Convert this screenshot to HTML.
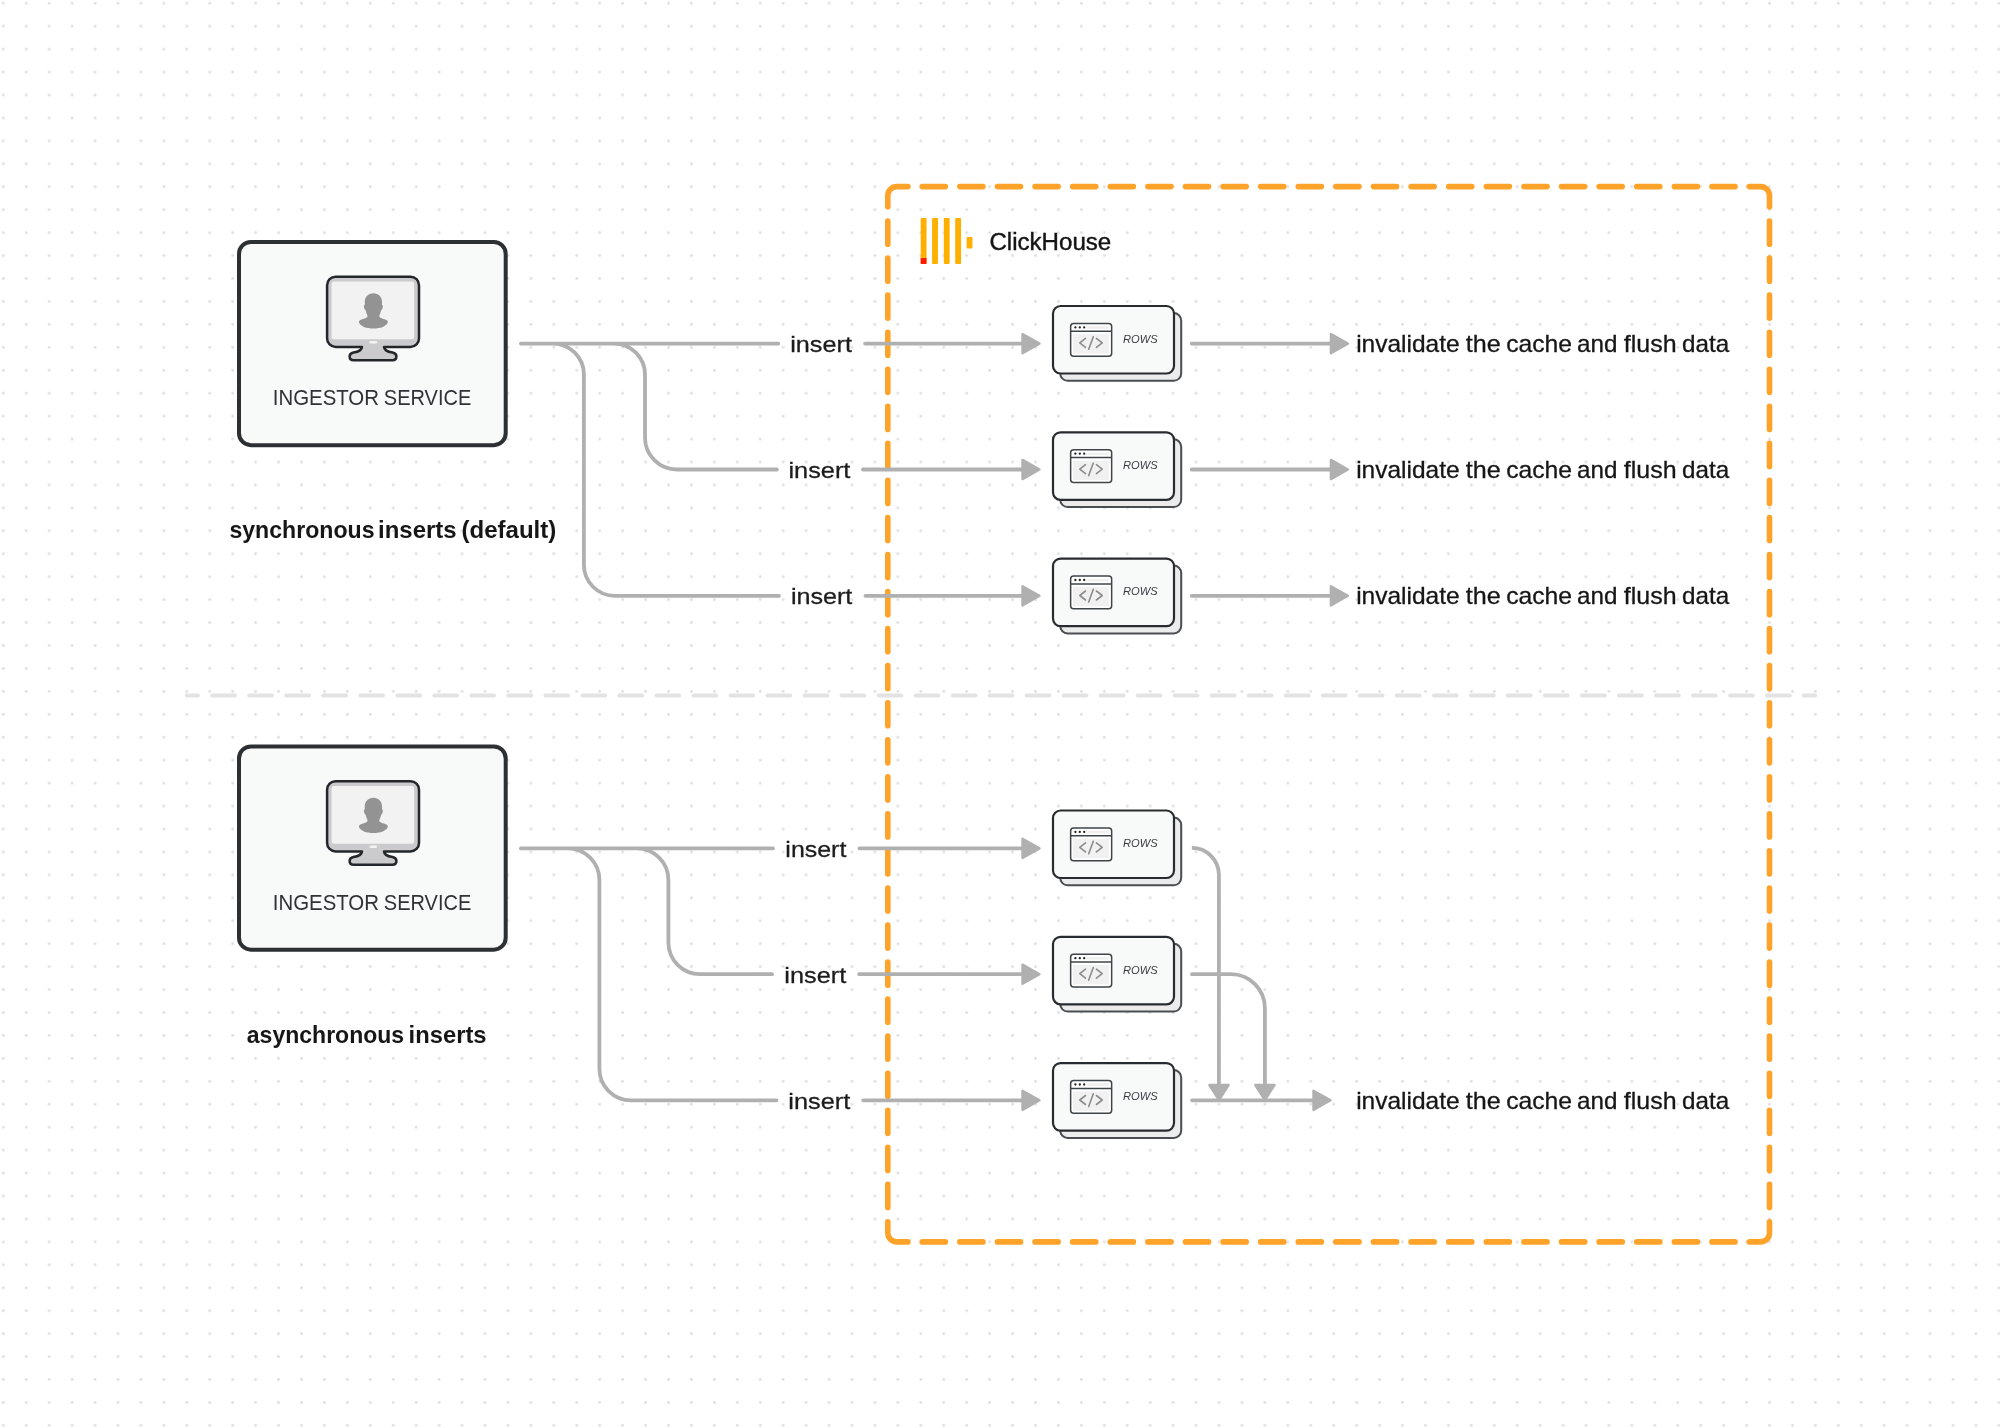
<!DOCTYPE html>
<html><head><meta charset="utf-8"><title>ClickHouse async inserts</title>
<style>html,body{margin:0;padding:0;background:#fff;}body{width:2000px;height:1428px;overflow:hidden;font-family:"Liberation Sans",sans-serif;}svg{display:block;will-change:transform}</style>
</head><body>
<svg width="2000" height="1428" viewBox="0 0 2000 1428">
<defs><pattern id="dots" patternUnits="userSpaceOnUse" x="-8.18" y="-8.18" width="22.938" height="22.938"><circle cx="11.47" cy="11.47" r="1.45" fill="#e0e0e0"/></pattern></defs>
<rect width="2000" height="1428" fill="#ffffff"/>
<rect width="2000" height="1428" fill="url(#dots)"/>
<path d="M186.8 695.6H198M212.2 695.6H235M249.22 695.6H272.02M286.24 695.6H309.04M323.26 695.6H346.06M360.28 695.6H383.08M397.3 695.6H420.1M434.32 695.6H457.12M471.34 695.6H494.14M508.36 695.6H531.16M545.38 695.6H568.18M582.4 695.6H605.2M619.42 695.6H642.22M656.44 695.6H679.24M693.46 695.6H716.26M730.48 695.6H753.28M767.5 695.6H790.3M804.52 695.6H827.32M841.54 695.6H864.34M878.56 695.6H901.36M915.58 695.6H938.38M952.6 695.6H975.4M989.62 695.6H1012.42M1026.64 695.6H1049.44M1063.66 695.6H1086.46M1100.68 695.6H1123.48M1137.7 695.6H1160.5M1174.72 695.6H1197.52M1211.74 695.6H1234.54M1248.76 695.6H1271.56M1285.78 695.6H1308.58M1322.8 695.6H1345.6M1359.82 695.6H1382.62M1396.84 695.6H1419.64M1433.86 695.6H1456.66M1470.88 695.6H1493.68M1507.9 695.6H1530.7M1544.92 695.6H1567.72M1581.94 695.6H1604.74M1618.96 695.6H1641.76M1655.98 695.6H1678.78M1693 695.6H1715.8M1730.02 695.6H1752.82M1767.04 695.6H1789.84M1803.8 695.6H1815.2" stroke="#e3e3e3" stroke-width="4" stroke-linecap="round" fill="none"/>
<path d="M887.8 206.7V195.6A9 9 0 0 1 896.8 186.6H907.9M1749.4 186.6H1760.5A9 9 0 0 1 1769.5 195.6V206.7M1769.5 1221.8V1232.9A9 9 0 0 1 1760.5 1241.9H1749.4M907.9 1241.9H896.8A9 9 0 0 1 887.8 1232.9V1221.8M922.25 186.6H945.35M922.25 1241.9H945.35M959.85 186.6H982.95M959.85 1241.9H982.95M997.46 186.6H1020.56M997.46 1241.9H1020.56M1035.06 186.6H1058.16M1035.06 1241.9H1058.16M1072.67 186.6H1095.77M1072.67 1241.9H1095.77M1110.27 186.6H1133.37M1110.27 1241.9H1133.37M1147.88 186.6H1170.98M1147.88 1241.9H1170.98M1185.48 186.6H1208.58M1185.48 1241.9H1208.58M1223.09 186.6H1246.19M1223.09 1241.9H1246.19M1260.69 186.6H1283.79M1260.69 1241.9H1283.79M1298.3 186.6H1321.4M1298.3 1241.9H1321.4M1335.9 186.6H1359M1335.9 1241.9H1359M1373.51 186.6H1396.61M1373.51 1241.9H1396.61M1411.11 186.6H1434.21M1411.11 1241.9H1434.21M1448.72 186.6H1471.82M1448.72 1241.9H1471.82M1486.32 186.6H1509.42M1486.32 1241.9H1509.42M1523.93 186.6H1547.03M1523.93 1241.9H1547.03M1561.53 186.6H1584.63M1561.53 1241.9H1584.63M1599.14 186.6H1622.24M1599.14 1241.9H1622.24M1636.74 186.6H1659.84M1636.74 1241.9H1659.84M1674.35 186.6H1697.45M1674.35 1241.9H1697.45M1711.95 186.6H1735.05M1711.95 1241.9H1735.05M887.8 221.05V244.15M1769.5 221.05V244.15M887.8 258.1V281.2M1769.5 258.1V281.2M887.8 295.15V318.25M1769.5 295.15V318.25M887.8 332.2V355.3M1769.5 332.2V355.3M887.8 369.25V392.35M1769.5 369.25V392.35M887.8 406.3V429.4M1769.5 406.3V429.4M887.8 443.35V466.45M1769.5 443.35V466.45M887.8 480.4V503.5M1769.5 480.4V503.5M887.8 517.45V540.55M1769.5 517.45V540.55M887.8 554.5V577.6M1769.5 554.5V577.6M887.8 591.55V614.65M1769.5 591.55V614.65M887.8 628.6V651.7M1769.5 628.6V651.7M887.8 665.65V688.75M1769.5 665.65V688.75M887.8 702.7V725.8M1769.5 702.7V725.8M887.8 739.75V762.85M1769.5 739.75V762.85M887.8 776.8V799.9M1769.5 776.8V799.9M887.8 813.85V836.95M1769.5 813.85V836.95M887.8 850.9V874M1769.5 850.9V874M887.8 887.95V911.05M1769.5 887.95V911.05M887.8 925V948.1M1769.5 925V948.1M887.8 962.05V985.15M1769.5 962.05V985.15M887.8 999.1V1022.2M1769.5 999.1V1022.2M887.8 1036.15V1059.25M1769.5 1036.15V1059.25M887.8 1073.2V1096.3M1769.5 1073.2V1096.3M887.8 1110.25V1133.35M1769.5 1110.25V1133.35M887.8 1147.3V1170.4M1769.5 1147.3V1170.4M887.8 1184.35V1207.45M1769.5 1184.35V1207.45" stroke="#fea329" stroke-width="5.6" stroke-linecap="round" fill="none"/>
<rect x="920.7" y="218.1" width="5.85" height="45.8" rx="0.8" fill="#fdb000"/><rect x="932.1" y="218.1" width="5.85" height="45.8" rx="0.8" fill="#fdb000"/><rect x="943.8" y="218.1" width="5.85" height="45.8" rx="0.8" fill="#fdb000"/><rect x="955.2" y="218.1" width="5.85" height="45.8" rx="0.8" fill="#fdb000"/><rect x="966.6" y="237" width="5.85" height="11.4" rx="0.8" fill="#fdb000"/><rect x="920.7" y="258" width="5.85" height="5.9" rx="0.6" fill="#ff1a00"/>
<g transform="translate(0 0)">
<rect x="239" y="241.9" width="266.7" height="203.3" rx="12" fill="#f8f9f9" stroke="#2c3033" stroke-width="4"/>
<g transform="translate(0 0)"><path d="M335.6 276.7H410.5A8.5 8.5 0 0 1 419.0 285.2V338.4A8.5 8.5 0 0 1 410.5 346.9H384C384.2 350.5 387.5 351.8 392.5 352.6C395.5 353.2 396.4 355 396.4 356.5C396.4 358.8 394.7 360.2 392.4 360.2H353.6C351.3 360.2 349.6 358.8 349.6 356.5C349.6 355 350.5 353.2 353.5 352.6C358.5 351.8 361.8 350.5 362 346.9H335.6A8.5 8.5 0 0 1 327.1 338.4V285.2A8.5 8.5 0 0 1 335.6 276.7Z" fill="#cbcbcd" stroke="#23272a" stroke-width="2.5" stroke-linejoin="round"/><rect x="331.6" y="281.4" width="82.5" height="57.8" rx="2.5" fill="#f2f2f2"/><rect x="369.5" y="340.9" width="7.6" height="2.6" rx="1.3" fill="#f4f4f4"/><path d="M373.4 293.2C368.2 293.2 364.8 296.8 364.8 302L364.8 304.8C363.9 305.1 363.7 306.5 364.1 307.8C364.4 309 365 309.8 365.5 309.9C366 312 366.8 313.8 367.4 315.2L367.4 317C365.5 318.3 362.5 319.2 360.5 319.9C359.2 320.4 358.7 321.2 359 322.4C360.6 326.3 366 328.4 373.4 328.4C380.8 328.4 386.2 326.3 387.8 322.4C388.1 321.2 387.6 320.4 386.3 319.9C384.3 319.2 381.3 318.3 379.4 317L379.4 315.2C380 313.8 380.8 312 381.3 309.9C381.8 309.8 382.4 309 382.7 307.8C383.1 306.5 382.9 305.1 382 304.8L382 302C382 296.8 378.6 293.2 373.4 293.2Z" fill="#939393" /></g>
</g>
<g transform="translate(0 504.5)">
<rect x="239" y="241.9" width="266.7" height="203.3" rx="12" fill="#f8f9f9" stroke="#2c3033" stroke-width="4"/>
<g transform="translate(0 0)"><path d="M335.6 276.7H410.5A8.5 8.5 0 0 1 419.0 285.2V338.4A8.5 8.5 0 0 1 410.5 346.9H384C384.2 350.5 387.5 351.8 392.5 352.6C395.5 353.2 396.4 355 396.4 356.5C396.4 358.8 394.7 360.2 392.4 360.2H353.6C351.3 360.2 349.6 358.8 349.6 356.5C349.6 355 350.5 353.2 353.5 352.6C358.5 351.8 361.8 350.5 362 346.9H335.6A8.5 8.5 0 0 1 327.1 338.4V285.2A8.5 8.5 0 0 1 335.6 276.7Z" fill="#cbcbcd" stroke="#23272a" stroke-width="2.5" stroke-linejoin="round"/><rect x="331.6" y="281.4" width="82.5" height="57.8" rx="2.5" fill="#f2f2f2"/><rect x="369.5" y="340.9" width="7.6" height="2.6" rx="1.3" fill="#f4f4f4"/><path d="M373.4 293.2C368.2 293.2 364.8 296.8 364.8 302L364.8 304.8C363.9 305.1 363.7 306.5 364.1 307.8C364.4 309 365 309.8 365.5 309.9C366 312 366.8 313.8 367.4 315.2L367.4 317C365.5 318.3 362.5 319.2 360.5 319.9C359.2 320.4 358.7 321.2 359 322.4C360.6 326.3 366 328.4 373.4 328.4C380.8 328.4 386.2 326.3 387.8 322.4C388.1 321.2 387.6 320.4 386.3 319.9C384.3 319.2 381.3 318.3 379.4 317L379.4 315.2C380 313.8 380.8 312 381.3 309.9C381.8 309.8 382.4 309 382.7 307.8C383.1 306.5 382.9 305.1 382 304.8L382 302C382 296.8 378.6 293.2 373.4 293.2Z" fill="#939393" /></g>
</g>
<path d="M520.9 343.6H778.3M552.9 343.6A31 31 0 0 1 583.9 374.6V564.8A31 31 0 0 0 614.9 595.8H779M614 343.6A31 31 0 0 1 645 374.6V437.5A32 32 0 0 0 677 469.5H776.9M520.9 848.4H773M567.8 848.4A31.6 31.6 0 0 1 599.4 880V1068.7A31.6 31.6 0 0 0 631 1100.3H776.5M636.8 848.4A31.6 31.6 0 0 1 668.4 880V942.6A31.6 31.6 0 0 0 700 974.2H772.1M865.1 343.6H1024M862.9 469.5H1024M865.4 595.8H1024M859.5 848.4H1024M859.1 974.2H1024M863.2 1100.3H1024M1191.7 343.6H1331M1191.7 469.5H1331M1191.7 595.8H1331M1192 1100.3H1315" stroke="#b0b0b0" stroke-width="3.8" stroke-linecap="round" stroke-linejoin="round" fill="none"/>
<path d="M1191.9 847.9A27 27 0 0 1 1218.9 874.9V1086" stroke="#b0b0b0" stroke-width="3.8" fill="none"/>
<path d="M1192 974.2H1230.9A34 34 0 0 1 1264.9 1008.2V1086" stroke="#b0b0b0" stroke-width="3.8" stroke-linecap="round" fill="none"/>
<path d="M1022.5 334L1039.5 343.6L1022.5 353.2Z" fill="#b0b0b0" stroke="#b0b0b0" stroke-width="2.4" stroke-linejoin="round"/><path d="M1022.5 459.9L1039.5 469.5L1022.5 479.1Z" fill="#b0b0b0" stroke="#b0b0b0" stroke-width="2.4" stroke-linejoin="round"/><path d="M1022.5 586.2L1039.5 595.8L1022.5 605.4Z" fill="#b0b0b0" stroke="#b0b0b0" stroke-width="2.4" stroke-linejoin="round"/><path d="M1022.5 838.8L1039.5 848.4L1022.5 858Z" fill="#b0b0b0" stroke="#b0b0b0" stroke-width="2.4" stroke-linejoin="round"/><path d="M1022.5 964.6L1039.5 974.2L1022.5 983.8Z" fill="#b0b0b0" stroke="#b0b0b0" stroke-width="2.4" stroke-linejoin="round"/><path d="M1022.5 1090.7L1039.5 1100.3L1022.5 1109.9Z" fill="#b0b0b0" stroke="#b0b0b0" stroke-width="2.4" stroke-linejoin="round"/><path d="M1330.9 334L1347.9 343.6L1330.9 353.2Z" fill="#b0b0b0" stroke="#b0b0b0" stroke-width="2.4" stroke-linejoin="round"/><path d="M1330.9 459.9L1347.9 469.5L1330.9 479.1Z" fill="#b0b0b0" stroke="#b0b0b0" stroke-width="2.4" stroke-linejoin="round"/><path d="M1330.9 586.2L1347.9 595.8L1330.9 605.4Z" fill="#b0b0b0" stroke="#b0b0b0" stroke-width="2.4" stroke-linejoin="round"/><path d="M1313.5 1090.7L1330.5 1100.3L1313.5 1109.9Z" fill="#b0b0b0" stroke="#b0b0b0" stroke-width="2.4" stroke-linejoin="round"/><path d="M1209.4 1085L1219 1100L1228.6 1085Z" fill="#b0b0b0" stroke="#b0b0b0" stroke-width="2.4" stroke-linejoin="round"/><path d="M1255.3 1085L1264.9 1100L1274.5 1085Z" fill="#b0b0b0" stroke="#b0b0b0" stroke-width="2.4" stroke-linejoin="round"/>
<g transform="translate(0 0)"><rect x="1060.2" y="313" width="121" height="67.8" rx="7.5" fill="#ececec" stroke="#4a4e51" stroke-width="2"/><rect x="1053" y="306" width="121" height="67.5" rx="7.5" fill="#f8f9f9" stroke="#292c2f" stroke-width="2.2"/><rect x="1070.65" y="323.45" width="41" height="32.7" rx="3" fill="#ffffff" stroke="#3f4447" stroke-width="1.5"/><rect x="1072.9" y="334.2" width="36.2" height="19.5" fill="#f1f1f1"/><rect x="1086.9" y="326.1" width="22" height="2.8" fill="#f0f0f0"/><path d="M1070.65 331.3H1111.65" stroke="#3f4447" stroke-width="1.5"/><circle cx="1075.4" cy="327.4" r="1.15" fill="#222"/><circle cx="1079.8" cy="327.4" r="1.15" fill="#222"/><circle cx="1084.2" cy="327.4" r="1.15" fill="#222"/><path d="M1085.5 338.4L1079.8 342.9L1085.5 347.4M1093.3 336.7L1088.7 349.3M1096.4 338.4L1102.2 342.9L1096.4 347.4" stroke="#8c8c8c" stroke-width="1.6" stroke-linecap="round" stroke-linejoin="round" fill="none"/><text x="1123" y="342.9" font-family="Liberation Sans" font-style="italic" font-size="11.4" fill="#3a3d40" textLength="34.6" lengthAdjust="spacingAndGlyphs">ROWS</text></g>
<g transform="translate(0 126.3)"><rect x="1060.2" y="313" width="121" height="67.8" rx="7.5" fill="#ececec" stroke="#4a4e51" stroke-width="2"/><rect x="1053" y="306" width="121" height="67.5" rx="7.5" fill="#f8f9f9" stroke="#292c2f" stroke-width="2.2"/><rect x="1070.65" y="323.45" width="41" height="32.7" rx="3" fill="#ffffff" stroke="#3f4447" stroke-width="1.5"/><rect x="1072.9" y="334.2" width="36.2" height="19.5" fill="#f1f1f1"/><rect x="1086.9" y="326.1" width="22" height="2.8" fill="#f0f0f0"/><path d="M1070.65 331.3H1111.65" stroke="#3f4447" stroke-width="1.5"/><circle cx="1075.4" cy="327.4" r="1.15" fill="#222"/><circle cx="1079.8" cy="327.4" r="1.15" fill="#222"/><circle cx="1084.2" cy="327.4" r="1.15" fill="#222"/><path d="M1085.5 338.4L1079.8 342.9L1085.5 347.4M1093.3 336.7L1088.7 349.3M1096.4 338.4L1102.2 342.9L1096.4 347.4" stroke="#8c8c8c" stroke-width="1.6" stroke-linecap="round" stroke-linejoin="round" fill="none"/><text x="1123" y="342.9" font-family="Liberation Sans" font-style="italic" font-size="11.4" fill="#3a3d40" textLength="34.6" lengthAdjust="spacingAndGlyphs">ROWS</text></g>
<g transform="translate(0 252.6)"><rect x="1060.2" y="313" width="121" height="67.8" rx="7.5" fill="#ececec" stroke="#4a4e51" stroke-width="2"/><rect x="1053" y="306" width="121" height="67.5" rx="7.5" fill="#f8f9f9" stroke="#292c2f" stroke-width="2.2"/><rect x="1070.65" y="323.45" width="41" height="32.7" rx="3" fill="#ffffff" stroke="#3f4447" stroke-width="1.5"/><rect x="1072.9" y="334.2" width="36.2" height="19.5" fill="#f1f1f1"/><rect x="1086.9" y="326.1" width="22" height="2.8" fill="#f0f0f0"/><path d="M1070.65 331.3H1111.65" stroke="#3f4447" stroke-width="1.5"/><circle cx="1075.4" cy="327.4" r="1.15" fill="#222"/><circle cx="1079.8" cy="327.4" r="1.15" fill="#222"/><circle cx="1084.2" cy="327.4" r="1.15" fill="#222"/><path d="M1085.5 338.4L1079.8 342.9L1085.5 347.4M1093.3 336.7L1088.7 349.3M1096.4 338.4L1102.2 342.9L1096.4 347.4" stroke="#8c8c8c" stroke-width="1.6" stroke-linecap="round" stroke-linejoin="round" fill="none"/><text x="1123" y="342.9" font-family="Liberation Sans" font-style="italic" font-size="11.4" fill="#3a3d40" textLength="34.6" lengthAdjust="spacingAndGlyphs">ROWS</text></g>
<g transform="translate(0 504.5)"><rect x="1060.2" y="313" width="121" height="67.8" rx="7.5" fill="#ececec" stroke="#4a4e51" stroke-width="2"/><rect x="1053" y="306" width="121" height="67.5" rx="7.5" fill="#f8f9f9" stroke="#292c2f" stroke-width="2.2"/><rect x="1070.65" y="323.45" width="41" height="32.7" rx="3" fill="#ffffff" stroke="#3f4447" stroke-width="1.5"/><rect x="1072.9" y="334.2" width="36.2" height="19.5" fill="#f1f1f1"/><rect x="1086.9" y="326.1" width="22" height="2.8" fill="#f0f0f0"/><path d="M1070.65 331.3H1111.65" stroke="#3f4447" stroke-width="1.5"/><circle cx="1075.4" cy="327.4" r="1.15" fill="#222"/><circle cx="1079.8" cy="327.4" r="1.15" fill="#222"/><circle cx="1084.2" cy="327.4" r="1.15" fill="#222"/><path d="M1085.5 338.4L1079.8 342.9L1085.5 347.4M1093.3 336.7L1088.7 349.3M1096.4 338.4L1102.2 342.9L1096.4 347.4" stroke="#8c8c8c" stroke-width="1.6" stroke-linecap="round" stroke-linejoin="round" fill="none"/><text x="1123" y="342.9" font-family="Liberation Sans" font-style="italic" font-size="11.4" fill="#3a3d40" textLength="34.6" lengthAdjust="spacingAndGlyphs">ROWS</text></g>
<g transform="translate(0 630.8)"><rect x="1060.2" y="313" width="121" height="67.8" rx="7.5" fill="#ececec" stroke="#4a4e51" stroke-width="2"/><rect x="1053" y="306" width="121" height="67.5" rx="7.5" fill="#f8f9f9" stroke="#292c2f" stroke-width="2.2"/><rect x="1070.65" y="323.45" width="41" height="32.7" rx="3" fill="#ffffff" stroke="#3f4447" stroke-width="1.5"/><rect x="1072.9" y="334.2" width="36.2" height="19.5" fill="#f1f1f1"/><rect x="1086.9" y="326.1" width="22" height="2.8" fill="#f0f0f0"/><path d="M1070.65 331.3H1111.65" stroke="#3f4447" stroke-width="1.5"/><circle cx="1075.4" cy="327.4" r="1.15" fill="#222"/><circle cx="1079.8" cy="327.4" r="1.15" fill="#222"/><circle cx="1084.2" cy="327.4" r="1.15" fill="#222"/><path d="M1085.5 338.4L1079.8 342.9L1085.5 347.4M1093.3 336.7L1088.7 349.3M1096.4 338.4L1102.2 342.9L1096.4 347.4" stroke="#8c8c8c" stroke-width="1.6" stroke-linecap="round" stroke-linejoin="round" fill="none"/><text x="1123" y="342.9" font-family="Liberation Sans" font-style="italic" font-size="11.4" fill="#3a3d40" textLength="34.6" lengthAdjust="spacingAndGlyphs">ROWS</text></g>
<g transform="translate(0 757.1)"><rect x="1060.2" y="313" width="121" height="67.8" rx="7.5" fill="#ececec" stroke="#4a4e51" stroke-width="2"/><rect x="1053" y="306" width="121" height="67.5" rx="7.5" fill="#f8f9f9" stroke="#292c2f" stroke-width="2.2"/><rect x="1070.65" y="323.45" width="41" height="32.7" rx="3" fill="#ffffff" stroke="#3f4447" stroke-width="1.5"/><rect x="1072.9" y="334.2" width="36.2" height="19.5" fill="#f1f1f1"/><rect x="1086.9" y="326.1" width="22" height="2.8" fill="#f0f0f0"/><path d="M1070.65 331.3H1111.65" stroke="#3f4447" stroke-width="1.5"/><circle cx="1075.4" cy="327.4" r="1.15" fill="#222"/><circle cx="1079.8" cy="327.4" r="1.15" fill="#222"/><circle cx="1084.2" cy="327.4" r="1.15" fill="#222"/><path d="M1085.5 338.4L1079.8 342.9L1085.5 347.4M1093.3 336.7L1088.7 349.3M1096.4 338.4L1102.2 342.9L1096.4 347.4" stroke="#8c8c8c" stroke-width="1.6" stroke-linecap="round" stroke-linejoin="round" fill="none"/><text x="1123" y="342.9" font-family="Liberation Sans" font-style="italic" font-size="11.4" fill="#3a3d40" textLength="34.6" lengthAdjust="spacingAndGlyphs">ROWS</text></g>
<text x="272.74" y="405.0" font-family="Liberation Sans" font-weight="normal" font-style="normal" font-size="22.6" fill="#2f3336" textLength="106.26" lengthAdjust="spacingAndGlyphs">INGESTOR</text>
<text x="383.84" y="405.0" font-family="Liberation Sans" font-weight="normal" font-style="normal" font-size="22.6" fill="#2f3336" textLength="87.40" lengthAdjust="spacingAndGlyphs">SERVICE</text>
<text x="272.74" y="909.5" font-family="Liberation Sans" font-weight="normal" font-style="normal" font-size="22.6" fill="#2f3336" textLength="106.26" lengthAdjust="spacingAndGlyphs">INGESTOR</text>
<text x="383.84" y="909.5" font-family="Liberation Sans" font-weight="normal" font-style="normal" font-size="22.6" fill="#2f3336" textLength="87.40" lengthAdjust="spacingAndGlyphs">SERVICE</text>
<text x="229.42" y="538.4" font-family="Liberation Sans" font-weight="bold" font-style="normal" font-size="24" fill="#161616" textLength="145.12" lengthAdjust="spacingAndGlyphs">synchronous</text>
<text x="378.06" y="538.4" font-family="Liberation Sans" font-weight="bold" font-style="normal" font-size="24" fill="#161616" textLength="78.58" lengthAdjust="spacingAndGlyphs">inserts</text>
<text x="461.53" y="538.4" font-family="Liberation Sans" font-weight="bold" font-style="normal" font-size="24" fill="#161616" textLength="94.75" lengthAdjust="spacingAndGlyphs">(default)</text>
<text x="246.81" y="1042.8" font-family="Liberation Sans" font-weight="bold" font-style="normal" font-size="24" fill="#161616" textLength="157.34" lengthAdjust="spacingAndGlyphs">asynchronous</text>
<text x="408.59" y="1042.8" font-family="Liberation Sans" font-weight="bold" font-style="normal" font-size="24" fill="#161616" textLength="77.93" lengthAdjust="spacingAndGlyphs">inserts</text>
<text x="989.42" y="249.8" font-family="Liberation Sans" font-weight="normal" font-style="normal" font-size="23.5" fill="#141414" stroke="#141414" stroke-width="0.4" textLength="121.84" lengthAdjust="spacingAndGlyphs">ClickHouse</text>
<text x="790.24" y="352.0" font-family="Liberation Sans" font-weight="normal" font-style="normal" font-size="22.8" fill="#1c1c1c" stroke="#1c1c1c" stroke-width="0.3" textLength="61.67" lengthAdjust="spacingAndGlyphs">insert</text>
<text x="788.45" y="478.0" font-family="Liberation Sans" font-weight="normal" font-style="normal" font-size="22.8" fill="#1c1c1c" stroke="#1c1c1c" stroke-width="0.3" textLength="61.98" lengthAdjust="spacingAndGlyphs">insert</text>
<text x="790.90" y="604.0" font-family="Liberation Sans" font-weight="normal" font-style="normal" font-size="22.8" fill="#1c1c1c" stroke="#1c1c1c" stroke-width="0.3" textLength="61.46" lengthAdjust="spacingAndGlyphs">insert</text>
<text x="785.38" y="856.8" font-family="Liberation Sans" font-weight="normal" font-style="normal" font-size="22.8" fill="#1c1c1c" stroke="#1c1c1c" stroke-width="0.3" textLength="60.98" lengthAdjust="spacingAndGlyphs">insert</text>
<text x="784.37" y="982.8" font-family="Liberation Sans" font-weight="normal" font-style="normal" font-size="22.8" fill="#1c1c1c" stroke="#1c1c1c" stroke-width="0.3" textLength="61.85" lengthAdjust="spacingAndGlyphs">insert</text>
<text x="788.37" y="1108.8" font-family="Liberation Sans" font-weight="normal" font-style="normal" font-size="22.8" fill="#1c1c1c" stroke="#1c1c1c" stroke-width="0.3" textLength="61.85" lengthAdjust="spacingAndGlyphs">insert</text>
<text x="1356.17" y="352.0" font-family="Liberation Sans" font-weight="normal" font-style="normal" font-size="24" fill="#161616" stroke="#161616" stroke-width="0.3" textLength="103.49" lengthAdjust="spacingAndGlyphs">invalidate</text>
<text x="1465.74" y="352.0" font-family="Liberation Sans" font-weight="normal" font-style="normal" font-size="24" fill="#161616" stroke="#161616" stroke-width="0.3" textLength="34.93" lengthAdjust="spacingAndGlyphs">the</text>
<text x="1506.16" y="352.0" font-family="Liberation Sans" font-weight="normal" font-style="normal" font-size="24" fill="#161616" stroke="#161616" stroke-width="0.3" textLength="65.95" lengthAdjust="spacingAndGlyphs">cache</text>
<text x="1576.98" y="352.0" font-family="Liberation Sans" font-weight="normal" font-style="normal" font-size="24" fill="#161616" stroke="#161616" stroke-width="0.3" textLength="40.37" lengthAdjust="spacingAndGlyphs">and</text>
<text x="1623.80" y="352.0" font-family="Liberation Sans" font-weight="normal" font-style="normal" font-size="24" fill="#161616" stroke="#161616" stroke-width="0.3" textLength="52.73" lengthAdjust="spacingAndGlyphs">flush</text>
<text x="1682.12" y="352.0" font-family="Liberation Sans" font-weight="normal" font-style="normal" font-size="24" fill="#161616" stroke="#161616" stroke-width="0.3" textLength="47.13" lengthAdjust="spacingAndGlyphs">data</text>
<text x="1356.17" y="478.0" font-family="Liberation Sans" font-weight="normal" font-style="normal" font-size="24" fill="#161616" stroke="#161616" stroke-width="0.3" textLength="103.49" lengthAdjust="spacingAndGlyphs">invalidate</text>
<text x="1465.74" y="478.0" font-family="Liberation Sans" font-weight="normal" font-style="normal" font-size="24" fill="#161616" stroke="#161616" stroke-width="0.3" textLength="34.93" lengthAdjust="spacingAndGlyphs">the</text>
<text x="1506.16" y="478.0" font-family="Liberation Sans" font-weight="normal" font-style="normal" font-size="24" fill="#161616" stroke="#161616" stroke-width="0.3" textLength="65.95" lengthAdjust="spacingAndGlyphs">cache</text>
<text x="1576.98" y="478.0" font-family="Liberation Sans" font-weight="normal" font-style="normal" font-size="24" fill="#161616" stroke="#161616" stroke-width="0.3" textLength="40.37" lengthAdjust="spacingAndGlyphs">and</text>
<text x="1623.80" y="478.0" font-family="Liberation Sans" font-weight="normal" font-style="normal" font-size="24" fill="#161616" stroke="#161616" stroke-width="0.3" textLength="52.73" lengthAdjust="spacingAndGlyphs">flush</text>
<text x="1682.12" y="478.0" font-family="Liberation Sans" font-weight="normal" font-style="normal" font-size="24" fill="#161616" stroke="#161616" stroke-width="0.3" textLength="47.13" lengthAdjust="spacingAndGlyphs">data</text>
<text x="1356.17" y="604.0" font-family="Liberation Sans" font-weight="normal" font-style="normal" font-size="24" fill="#161616" stroke="#161616" stroke-width="0.3" textLength="103.49" lengthAdjust="spacingAndGlyphs">invalidate</text>
<text x="1465.74" y="604.0" font-family="Liberation Sans" font-weight="normal" font-style="normal" font-size="24" fill="#161616" stroke="#161616" stroke-width="0.3" textLength="34.93" lengthAdjust="spacingAndGlyphs">the</text>
<text x="1506.16" y="604.0" font-family="Liberation Sans" font-weight="normal" font-style="normal" font-size="24" fill="#161616" stroke="#161616" stroke-width="0.3" textLength="65.95" lengthAdjust="spacingAndGlyphs">cache</text>
<text x="1576.98" y="604.0" font-family="Liberation Sans" font-weight="normal" font-style="normal" font-size="24" fill="#161616" stroke="#161616" stroke-width="0.3" textLength="40.37" lengthAdjust="spacingAndGlyphs">and</text>
<text x="1623.80" y="604.0" font-family="Liberation Sans" font-weight="normal" font-style="normal" font-size="24" fill="#161616" stroke="#161616" stroke-width="0.3" textLength="52.73" lengthAdjust="spacingAndGlyphs">flush</text>
<text x="1682.12" y="604.0" font-family="Liberation Sans" font-weight="normal" font-style="normal" font-size="24" fill="#161616" stroke="#161616" stroke-width="0.3" textLength="47.13" lengthAdjust="spacingAndGlyphs">data</text>
<text x="1356.17" y="1108.7" font-family="Liberation Sans" font-weight="normal" font-style="normal" font-size="24" fill="#161616" stroke="#161616" stroke-width="0.3" textLength="103.49" lengthAdjust="spacingAndGlyphs">invalidate</text>
<text x="1465.74" y="1108.7" font-family="Liberation Sans" font-weight="normal" font-style="normal" font-size="24" fill="#161616" stroke="#161616" stroke-width="0.3" textLength="34.93" lengthAdjust="spacingAndGlyphs">the</text>
<text x="1506.16" y="1108.7" font-family="Liberation Sans" font-weight="normal" font-style="normal" font-size="24" fill="#161616" stroke="#161616" stroke-width="0.3" textLength="65.95" lengthAdjust="spacingAndGlyphs">cache</text>
<text x="1576.98" y="1108.7" font-family="Liberation Sans" font-weight="normal" font-style="normal" font-size="24" fill="#161616" stroke="#161616" stroke-width="0.3" textLength="40.37" lengthAdjust="spacingAndGlyphs">and</text>
<text x="1623.80" y="1108.7" font-family="Liberation Sans" font-weight="normal" font-style="normal" font-size="24" fill="#161616" stroke="#161616" stroke-width="0.3" textLength="52.73" lengthAdjust="spacingAndGlyphs">flush</text>
<text x="1682.12" y="1108.7" font-family="Liberation Sans" font-weight="normal" font-style="normal" font-size="24" fill="#161616" stroke="#161616" stroke-width="0.3" textLength="47.13" lengthAdjust="spacingAndGlyphs">data</text>
</svg>
</body></html>
